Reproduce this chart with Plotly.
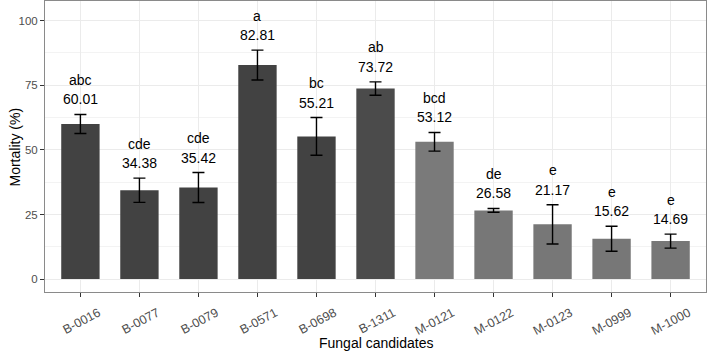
import plotly.graph_objects as go

categories = ["B-0016", "B-0077", "B-0079", "B-0571", "B-0698", "B-1311",
              "M-0121", "M-0122", "M-0123", "M-0999", "M-1000"]
mortality = [60.01, 34.38, 35.42, 82.81, 55.21, 73.72, 53.12, 26.58, 21.17, 15.62, 14.69]
error = [3.7, 4.7, 5.8, 5.8, 7.3, 2.6, 3.6, 0.75, 7.6, 4.85, 2.7]
letters = ["abc", "cde", "cde", "a", "bc", "ab", "bcd", "de", "e", "e", "e"]
bar_colors = ["#424242", "#424242", "#424242", "#424242", "#424242", "#4b4b4b",
              "#7a7a7a", "#777777", "#777777", "#777777", "#777777"]
y_ticks = [0, 25, 50, 75, 100]

fig = go.Figure()
fig.add_trace(go.Bar(
    x=categories, y=mortality, width=0.65,
    marker=dict(color=bar_colors, line=dict(width=0)),
    error_y=dict(type="data", array=error, visible=True, color="black",
                 thickness=1.4, width=6),
    showlegend=False,
))

font = "Liberation Sans, Arial, sans-serif"
for c, m, e, l in zip(categories, mortality, error, letters):
    top = m + e
    fig.add_annotation(x=c, y=top, text=f"{m:.2f}", showarrow=False,
                       yanchor="middle", yshift=15,
                       font=dict(size=14, color="black", family=font))
    fig.add_annotation(x=c, y=top, text=l, showarrow=False,
                       yanchor="middle", yshift=34.5,
                       font=dict(size=14, color="black", family=font))

# axis titles
fig.add_annotation(xref="paper", yref="paper", x=0.5, y=-0.175, text="Fungal candidates",
                   showarrow=False, yanchor="middle", xanchor="center",
                   font=dict(size=14, color="black", family=font))
fig.add_annotation(xref="paper", yref="paper", x=-0.0454, y=0.5, text="Mortality (%)",
                   showarrow=False, textangle=-90, yanchor="middle", xanchor="center",
                   font=dict(size=14, color="black", family=font))

fig.update_layout(
    width=708, height=352,
    margin=dict(l=45, r=2, t=1, b=60, autoexpand=False),
    paper_bgcolor="white", plot_bgcolor="white",
    font=dict(family=font),
)
fig.update_xaxes(
    automargin=False,
    range=[-0.6, 10.6],
    showgrid=True, gridcolor="#ebebeb", gridwidth=1,
    showline=True, linecolor="#8a8a8a", linewidth=1, mirror=True,
    ticks="outside", ticklen=4, tickcolor="#333333",
    tickangle=-28, ticklabelshift=18, ticklabelstandoff=4,
    tickfont=dict(size=12.5, color="#4d4d4d"),
    zeroline=False,
)
fig.update_yaxes(
    automargin=False,
    range=[-5, 107.6],
    tickvals=y_ticks,
    showgrid=True, gridcolor="#ebebeb", gridwidth=1,
    minor=dict(tickvals=[12.5, 37.5, 62.5, 87.5], showgrid=True, gridcolor="#f3f3f3", gridwidth=0.6, ticks=""),
    showline=True, linecolor="#8a8a8a", linewidth=1, mirror=True,
    ticks="outside", ticklen=4, tickcolor="#333333",
    tickfont=dict(size=11.5, color="#4d4d4d"),
    zeroline=False,
)

fig.write_html("out.html", config={"displayModeBar": False},
               post_script="document.body.style.margin='0';document.body.style.overflow='hidden';")
